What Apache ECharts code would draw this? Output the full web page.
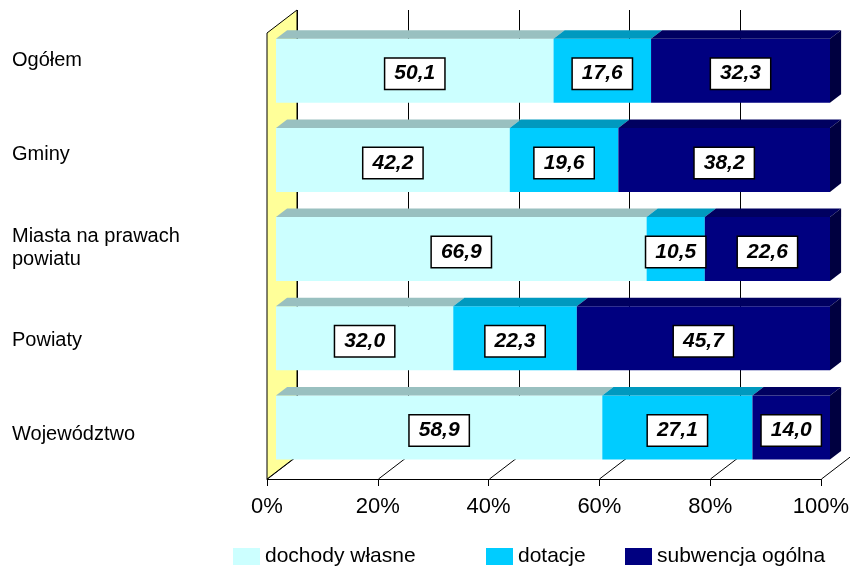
<!DOCTYPE html>
<html>
<head>
<meta charset="utf-8">
<script src="https://cdn.jsdelivr.net/npm/echarts@6/dist/echarts.min.js"></script>
<style>html,body{margin:0;padding:0;background:#fff}#c{width:850px;height:567px}</style>
</head>
<body>
<div id="c"></div>
<script>
const categories = ['Ogółem', 'Gminy', 'Miasta na prawach\npowiatu', 'Powiaty', 'Województwo'];
const dochodyWlasne = [50.1, 42.2, 66.9, 32.0, 58.9];
const dotacje = [17.6, 19.6, 10.5, 22.3, 27.1];
const subwencja = [32.3, 38.2, 22.6, 45.7, 14.0];
const seriesNames = ['dochody własne', 'dotacje', 'subwencja ogólna'];
const xTicks = [0, 20, 40, 60, 80, 100];

const FONT = 'Arial, "Liberation Sans", sans-serif';
const D = [30, -23];           // depth vector of the 3D box
const FRONT = 0.3, BACK = 0.67; // bar depth placement
const BAR_RATIO = 0.717;

const styles = [
  { front: '#CCFFFF', top: '#99C0C0', side: '#99C0C0' },
  { front: '#00CCFF', top: '#0099BF', side: '#0099BF' },
  { front: '#000080', top: '#000060', side: '#000040' }
];

const valueSets = [dochodyWlasne, dotacje, subwencja];
// build stacked segments [catIndex, start, end, value]
const segs = valueSets.map(() => []);
categories.forEach((c, i) => {
  let acc = 0;
  valueSets.forEach((vals, s) => {
    segs[s].push([i, acc, acc + vals[i], vals[i]]);
    acc += vals[i];
  });
});
const allSegs = [].concat(...segs);

function barRender(st, isLast) {
  return function (params, api) {
    const cs = params.coordSys;
    const band = cs.height / categories.length;
    const h = band * BAR_RATIO;
    const cat = api.value(0), s = api.value(1), e = api.value(2);
    const p0 = api.coord([s, cat]);
    const p1 = api.coord([e, cat]);
    const fx = D[0] * FRONT, fy = D[1] * FRONT;
    const dx = D[0] * (BACK - FRONT), dy = D[1] * (BACK - FRONT);
    const x0 = p0[0] + fx, x1 = p1[0] + fx;
    const yc = p0[1] + fy, yT = yc - h / 2, yB = yc + h / 2;
    const children = [
      { type: 'rect', shape: { x: x0, y: yT, width: x1 - x0, height: h }, style: { fill: st.front } },
      { type: 'polygon', shape: { points: [[x0, yT], [x1, yT], [x1 + dx, yT + dy], [x0 + dx, yT + dy]] }, style: { fill: st.top } }
    ];
    if (isLast) {
      children.push({ type: 'polygon', shape: { points: [[x1, yT], [x1 + dx, yT + dy], [x1 + dx, yB + dy], [x1, yB]] }, style: { fill: st.side } });
    }
    return { type: 'group', children };
  };
}

function labelRender(params, api) {
  const cat = api.value(0), s = api.value(1), e = api.value(2), v = api.value(3);
  const p0 = api.coord([s, cat]);
  const p1 = api.coord([e, cat]);
  const fx = D[0] * FRONT, fy = D[1] * FRONT;
  return {
    type: 'text',
    style: {
      text: v.toFixed(1).replace('.', ','),
      x: (p0[0] + p1[0]) / 2 + fx,
      y: p0[1] + fy + 3,
      align: 'center', verticalAlign: 'middle',
      fontSize: 21, fontWeight: 'bold', fontStyle: 'italic', fontFamily: FONT,
      fill: '#000', backgroundColor: '#fff', borderColor: '#000', borderWidth: 1.5,
      padding: [5, 9, 4, 9]
    }
  };
}

function wallRender(params, api) {
  const cs = params.coordSys;
  const L = cs.x, T = cs.y, R = cs.x + cs.width, B = cs.y + cs.height;
  const children = [];
  children.push({ type: 'polygon', shape: { points: [[L, B], [R, B], [R + D[0], B + D[1]], [L + D[0], B + D[1]]] }, style: { fill: '#fff' } });
  xTicks.forEach(v => {
    const x = Math.round(api.coord([v, 0])[0]) + 0.5;
    children.push({ type: 'line', shape: { x1: x + D[0], y1: T + D[1], x2: x + D[0], y2: B + D[1] }, style: { stroke: '#000', lineWidth: 1 } });
    children.push({ type: 'line', shape: { x1: x, y1: B, x2: x + D[0], y2: B + D[1] }, style: { stroke: '#000', lineWidth: 1 } });
  });
  children.push({ type: 'polygon', shape: { points: [[L, T], [L + D[0], T + D[1]], [L + D[0], B + D[1]], [L, B]] }, style: { fill: '#FFFF99', stroke: '#000', lineWidth: 1 } });
  return { type: 'group', children };
}

const chart = echarts.init(document.getElementById('c'));
const series = [
  { type: 'custom', name: '_walls', renderItem: wallRender, data: [[0, 0]], z: 1, silent: true, clip: false }
];
seriesNames.forEach((n, i) => {
  series.push({
    type: 'custom', name: n, renderItem: barRender(styles[i], i === seriesNames.length - 1),
    data: segs[i], encode: { x: [1, 2], y: 0 }, z: 2, itemStyle: { color: styles[i].front }, clip: false, silent: true
  });
});
series.push({ type: 'custom', name: '_labels', renderItem: labelRender, data: allSegs, encode: { x: [1, 2], y: 0 }, z: 3, clip: false, silent: true });

chart.setOption({
  animation: false,
  backgroundColor: '#fff',
  textStyle: { fontFamily: FONT, color: '#000' },
  grid: [
    { left: 267, right: 29, top: 33, bottom: 88, outerBoundsMode: 'none', containLabel: false },
    { left: 267, right: 29, top: 14, bottom: 86, outerBoundsMode: 'none', containLabel: false }
  ],
  xAxis: [
    {
      type: 'value', gridIndex: 0, min: 0, max: 100, interval: 20,
      axisLine: { show: true, lineStyle: { color: '#000', width: 1 } },
      axisTick: { show: true, length: 7, lineStyle: { color: '#000' } },
      splitLine: { show: false },
      axisLabel: { formatter: v => xTicks.includes(v) ? v + '%' : '', fontSize: 22, color: '#000', margin: 17, fontFamily: FONT }
    },
    { type: 'value', gridIndex: 1, min: 0, max: 100, show: false }
  ],
  yAxis: [
    {
      type: 'category', gridIndex: 0, data: categories, inverse: true,
      axisLine: { show: false }, axisTick: { show: false }, axisLabel: { show: false }, splitLine: { show: false }
    },
    {
      type: 'category', gridIndex: 1, data: categories, inverse: true,
      axisLine: { show: false }, axisTick: { show: false }, splitLine: { show: false },
      axisLabel: { align: 'left', margin: 255, fontSize: 20, lineHeight: 23, color: '#000', fontFamily: FONT }
    }
  ],
  legend: seriesNames.map((n, i) => ({
    data: [n], left: [233, 486, 625][i], top: 546, padding: 0,
    itemWidth: 27, itemHeight: 17, icon: 'rect', selectedMode: false,
    textStyle: { fontSize: 21, color: '#000', fontFamily: FONT }
  })),
  series
});
</script>
</body>
</html>
